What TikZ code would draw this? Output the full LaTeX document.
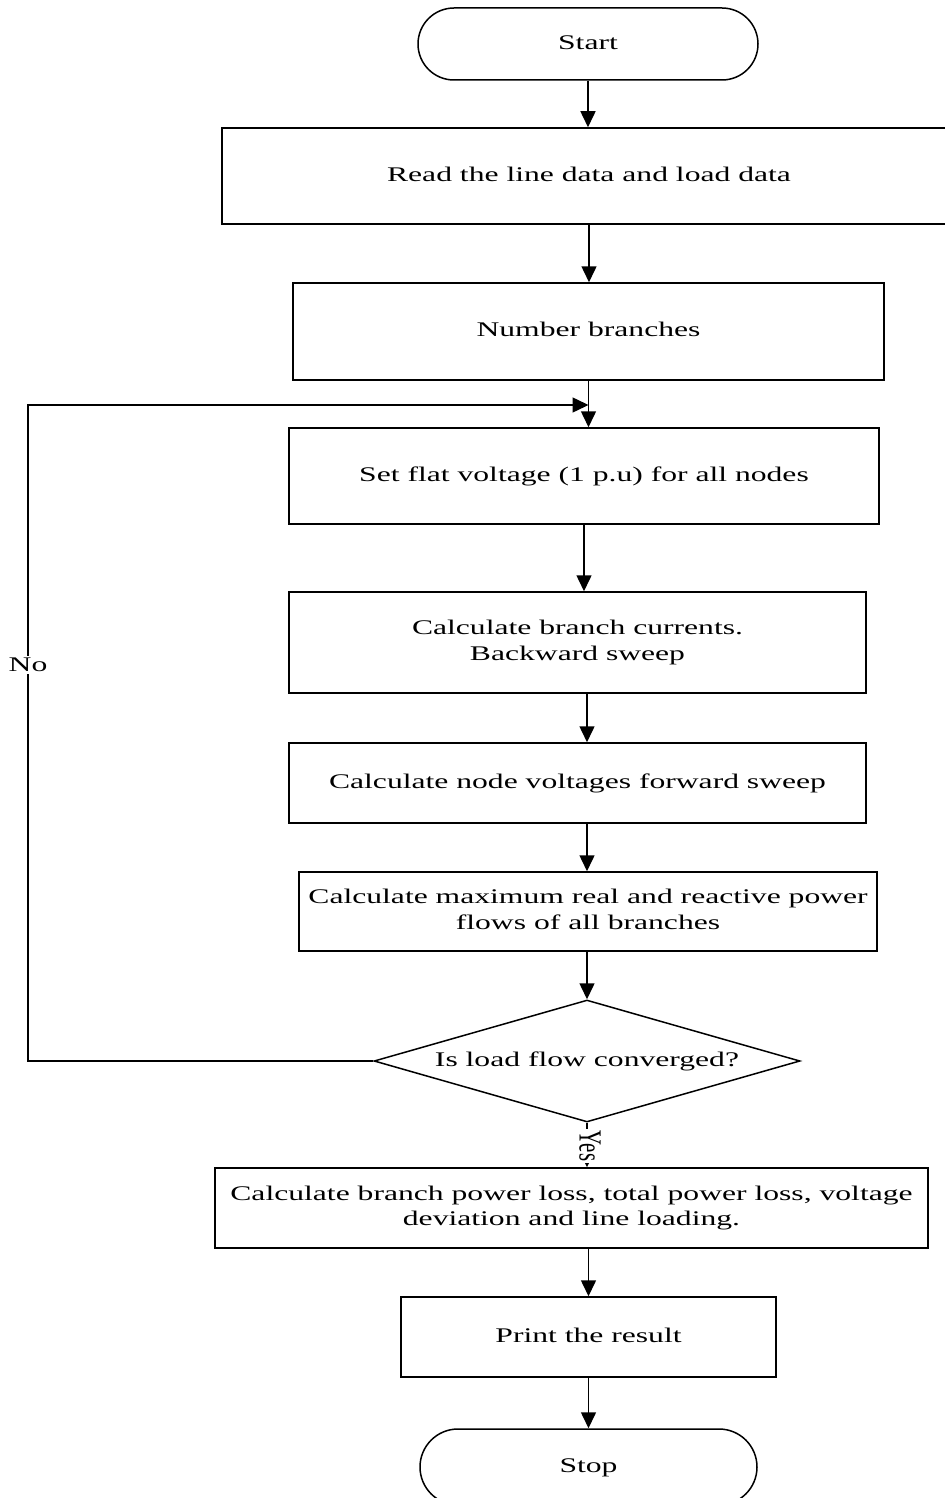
\documentclass[tikz,border=0pt]{standalone}
\usepackage{fontspec}
\usepackage{graphicx}
\setmainfont{Liberation Serif}
\usetikzlibrary{shapes.geometric,shapes.misc,arrows.meta}
% wide, centred text block used inside every box
\newcommand\wtxt[1]{\raisebox{-1.5pt}{\scalebox{1.52}[1]{\begin{tabular}{@{}c@{}}#1\end{tabular}}}}
\begin{document}
\begin{tikzpicture}[x=0.5pt,y=-0.5pt,line width=0.75pt,
  font=\fontsize{10.4}{12.6}\selectfont,
  box/.style={draw,rectangle,inner sep=0pt},
  term/.style={draw,rounded rectangle,inner sep=0pt},
  decision/.style={draw,diamond,aspect=3.5,inner sep=0pt},
  arr/.style={-{Triangle[length=8pt,width=7.5pt]}},
  lbl/.style={fill=white,inner sep=1pt}]
\useasboundingbox (0,0) rectangle (945,1498);

% blocks of the flowchart
\node[term,minimum width=170pt,minimum height=36pt] (start) at (588,44) {\wtxt{Start}};
\node[box,minimum width=367pt,minimum height=48pt] (b1) at (589,176) {\wtxt{Read the line data and load data}};
\node[box,minimum width=295.5pt,minimum height=48.5pt] (b2) at (588.5,331.5) {\wtxt{Number branches}};
\node[box,minimum width=295pt,minimum height=48pt] (b3) at (584,476) {\wtxt{Set flat voltage (1 p.u) for all nodes}};
\node[box,minimum width=288.5pt,minimum height=50.5pt] (b4) at (577.5,642.5) {\wtxt{Calculate branch currents.\\Backward sweep}};
\node[box,minimum width=288.5pt,minimum height=40pt] (b5) at (577.5,783) {\wtxt{Calculate node voltages forward sweep}};
\node[box,minimum width=289pt,minimum height=39.5pt] (b6) at (588,911.5) {\wtxt{Calculate maximum real and reactive power\\flows of all branches}};
\node[decision,minimum width=213pt,minimum height=61pt] (dec) at (587,1061) {\wtxt{Is load flow converged?}};
\node[box,minimum width=356.5pt,minimum height=40pt] (b7) at (571.5,1208) {\wtxt{Calculate branch power loss, total power loss, voltage\\deviation and line loading.}};
\node[box,minimum width=187.5pt,minimum height=40pt] (b8) at (588.5,1337) {\wtxt{Print the result}};
\node[term,minimum width=168.5pt,minimum height=38pt] (stop) at (588.5,1467) {\wtxt{Stop}};

% junction where the loop re-enters the main flow
\coordinate (join) at (588.5,405);
\coordinate (corner) at (28,1061);

% main flow
\draw[arr] (start.south) -- (start.south |- b1.north);
\draw[arr] (b1.south) -- (b1.south |- b2.north);
\draw[arr] (b2.south) -- (b2.south |- b3.north);
\draw[arr] (b3.south) -- (b3.south |- b4.north);
\draw[arr] (b4.south -| dec.north) -- (b5.north -| dec.north);
\draw[arr] (b5.south -| dec.north) -- (b6.north -| dec.north);
\draw[arr] (b6.south -| dec.north) -- (dec.north);
\draw[arr] (dec.south) -- (dec.south |- b7.north);
\draw[arr] (b7.south -| b8.north) -- (b8.north);
\draw[arr] (b8.south) -- (stop.north);

% loop back when not converged
\draw[arr] (dec.west) -- (corner) |- (join);
\node[lbl] (no) at (28,665) {\scalebox{1.52}[1]{No}};
\node[lbl,rotate=-90] (yes) at (590,1146) {\scalebox{1}[1.55]{Yes}};
\end{tikzpicture}
\end{document}
